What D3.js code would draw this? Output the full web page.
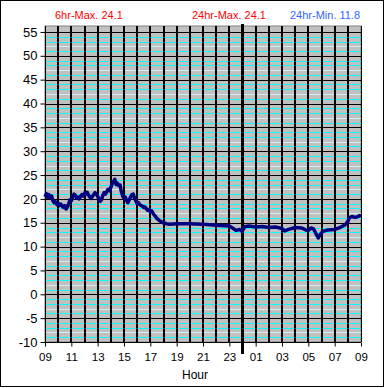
<!DOCTYPE html>
<html><head><meta charset="utf-8">
<script src="https://cdn.jsdelivr.net/npm/d3@7"></script>
<style>body{margin:0;background:#fff}svg{display:block}</style>
</head><body>
<script>
// Data: hours since 09:00, temperature
const hours = [0,0.1,0.2,0.3,0.4,0.5,0.6,0.7,0.8,0.9,1.0,1.1,1.2,1.3,1.4,1.5,1.6,1.7,1.8,1.9,
2.0,2.1,2.2,2.3,2.4,2.5,2.6,2.7,2.8,2.9,3.0,3.1,3.2,3.3,3.4,3.5,3.6,3.7,3.8,3.9,
4.0,4.1,4.2,4.3,4.4,4.5,4.6,4.7,4.8,4.9,5.0,5.1,5.2,5.3,5.4,5.5,5.6,5.7,5.8,5.9,
6.0,6.1,6.2,6.3,6.4,6.5,6.6,6.7,6.8,6.9,7.0,7.1,7.2,7.3,7.4,7.5,7.6,7.7,7.8,7.9,
8.0,8.1,8.2,8.3,8.4,8.5,8.6,8.7,8.8,8.9,9.0,9.2,9.5,10,11,12,13,14,14.3,14.5,14.8,14.95,
15.0,15.2,15.5,16.0,16.5,17.0,17.5,18.0,18.2,18.5,19.0,19.5,19.8,20.0,20.2,20.4,20.6,20.75,20.9,21.1,
21.5,22.0,22.4,22.8,23.0,23.1,23.3,23.6,23.9,24.0];
const temps = [20.4,21.1,20.3,20.9,20.2,20.6,19.6,19.2,19.4,18.8,19.1,18.6,18.9,18.5,18.2,18.6,17.9,18.3,19.0,19.8,
19.6,20.4,21.0,20.8,20.2,20.4,20.0,20.5,20.9,20.6,21.2,21.0,21.4,20.8,20.4,20.1,20.5,20.9,21.3,21.0,
20.6,19.8,19.5,19.9,20.8,21.3,21.0,21.6,22.0,21.7,22.4,23.2,23.6,24.1,23.0,23.3,22.8,22.9,21.5,20.6,
20.1,20.4,19.6,19.2,19.8,20.4,20.9,21.0,20.2,19.6,19.0,19.2,18.8,18.6,18.5,18.2,18.3,17.9,17.6,17.8,
17.3,17.5,17.0,16.6,16.3,15.9,15.7,15.4,15.3,15.1,15.0,14.8,14.7,14.8,14.8,14.7,14.5,14.3,13.8,13.4,13.6,13.2,
13.4,14.2,14.3,14.1,14.2,14.0,14.1,13.8,13.3,13.6,14.0,13.9,13.5,13.4,13.9,13.7,12.6,11.8,12.5,13.2,
13.5,13.6,14.0,14.6,15.2,16.0,16.3,16.1,16.5,16.4];
const xTickLabels = ["09","11","13","15","17","19","21","23","01","03","05","07","09"];
const yTicks = [-10,-5,0,5,10,15,20,25,30,35,40,45,50,55];
const titles = [
  {text:"6hr-Max. 24.1", color:"#ff0000"},
  {text:"24hr-Max. 24.1", color:"#ff0000"},
  {text:"24hr-Min. 11.8", color:"#3366ff"}
];

const W=385,H=388;
const svg=d3.select("body").append("svg").attr("width",W).attr("height",H);
svg.append("rect").attr("x",0.5).attr("y",0.5).attr("width",383).attr("height",386)
  .attr("fill","#fff").attr("stroke","#000");

const x=d3.scaleLinear().domain([0,24]).range([45,361]);
const y=d3.scaleLinear().domain([-10,56.25]).range([342,26]);

// plot background
svg.append("rect").attr("x",x(0)).attr("y",y(56.25)).attr("width",x(24)-x(0)).attr("height",y(-10)-y(56.25))
  .attr("fill","#c0c0c0").attr("stroke","#808080");

// minor horizontal lines
const minor=d3.range(-9,56).filter(v=>v%5!==0);
svg.append("g").selectAll("line").data(minor).join("line")
  .attr("x1",x(0)).attr("x2",x(24))
  .attr("y1",d=>Math.round(y(d))+0.5).attr("y2",d=>Math.round(y(d))+0.5)
  .attr("stroke",d=>(((d%5)+5)%5===2)?"#d4eeee":"#00ffff").attr("stroke-width",1);
// major horizontal lines
svg.append("g").selectAll("line").data(yTicks.filter(v=>v>-10)).join("line")
  .attr("x1",x(0)).attr("x2",x(24))
  .attr("y1",d=>Math.round(y(d))+0.5).attr("y2",d=>Math.round(y(d))+0.5)
  .attr("stroke","#000").attr("stroke-width",1);
// vertical hour lines
svg.append("g").selectAll("line").data(d3.range(1,24)).join("line")
  .attr("x1",d=>Math.round(x(d))).attr("x2",d=>Math.round(x(d)))
  .attr("y1",y(56.25)).attr("y2",y(-10))
  .attr("stroke","#000").attr("stroke-width",2);
// right edge
svg.append("line").attr("x1",x(24)+0.5).attr("x2",x(24)+0.5).attr("y1",y(56.25)).attr("y2",y(-10)).attr("stroke","#000");

// axes
const yAxis=d3.axisLeft(y).tickValues(yTicks).tickFormat(d=>String(d)).tickSize(5).tickPadding(3);
const gy=svg.append("g").attr("transform",`translate(${x(0)+0.5},0)`).call(yAxis);
gy.select(".domain").attr("d",`M0,${y(56.25)}V${y(-10)}`);
gy.selectAll("text").attr("font-family","Liberation Sans, Arial, sans-serif").attr("font-size",13).attr("fill","#000");

const xAxis=d3.axisBottom(x).tickValues(d3.range(0,25,2)).tickFormat((d,i)=>xTickLabels[i]).tickSize(4).tickPadding(6);
const gx=svg.append("g").attr("transform",`translate(0,${y(-10)+0.5})`).call(xAxis);
gx.select(".domain").attr("d",`M${x(0)},0H${x(24)}`);
gx.selectAll("text").attr("font-family","Liberation Sans, Arial, sans-serif").attr("font-size",11.5).attr("fill","#000");

// midnight line
svg.append("line").attr("x1",x(15)).attr("x2",x(15)).attr("y1",24).attr("y2",354)
  .attr("stroke","#000").attr("stroke-width",3);

// data line
const line=d3.line().x((d,i)=>x(hours[i])).y(d=>y(d));
svg.append("path").datum(temps).attr("d",line).attr("fill","none")
  .attr("stroke","#000080").attr("stroke-width",3.5).attr("stroke-linejoin","round");

// titles
const tx=[55,192,290];
svg.append("g").selectAll("text").data(titles).join("text")
  .attr("x",(d,i)=>tx[i]).attr("y",19)
  .attr("font-family","Liberation Sans, Arial, sans-serif").attr("font-size",11)
  .attr("fill",d=>d.color).text(d=>d.text);

svg.append("text").attr("x",195).attr("y",379).attr("text-anchor","middle")
  .attr("font-family","Liberation Sans, Arial, sans-serif").attr("font-size",12).text("Hour");
</script>
</body></html>
